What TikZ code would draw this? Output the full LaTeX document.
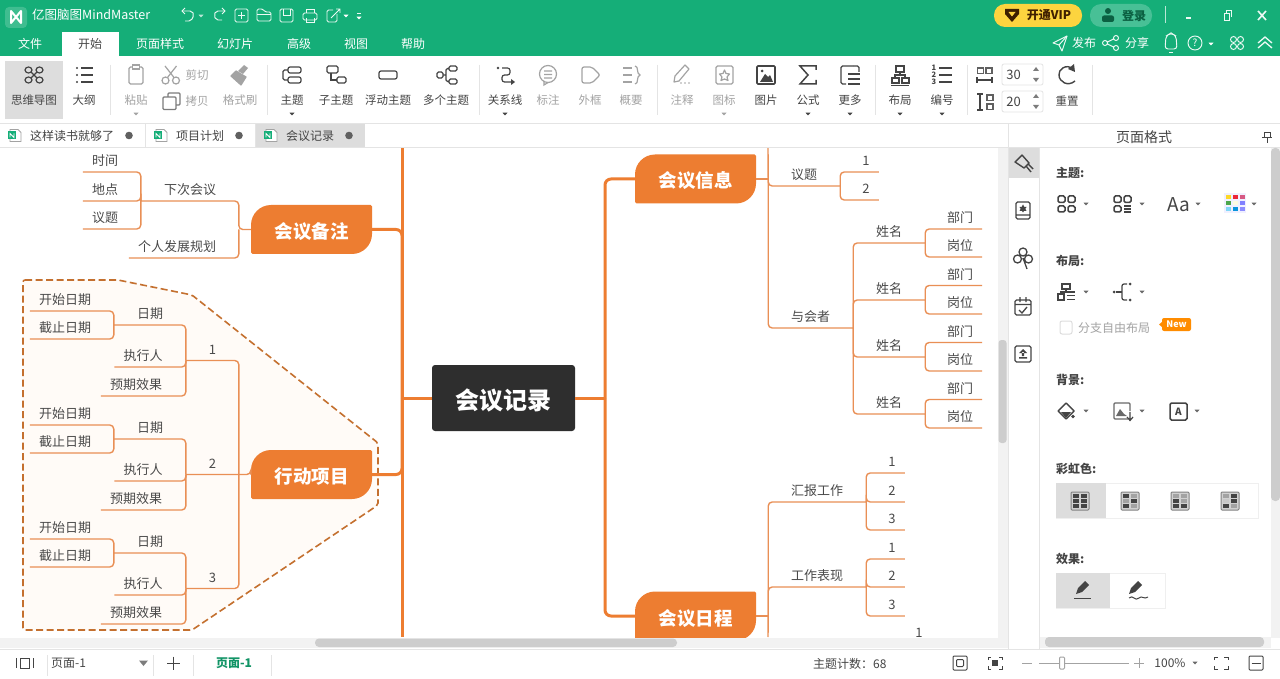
\documentclass[tikz,border=0pt]{standalone}
\usepackage{fontspec}
\setmainfont{Noto Sans CJK SC}
\usetikzlibrary{positioning}

\definecolor{barGreen}{HTML}{15AE78}
\definecolor{mapOrange}{HTML}{ED7D31}
\definecolor{thinOrange}{HTML}{E98F55}
\definecolor{dashOrange}{HTML}{C4702F}
\definecolor{areaFill}{HTML}{FFFBF7}
\definecolor{mapText}{HTML}{4A4A4A}
\definecolor{uiDark}{HTML}{444444}
\definecolor{uiGray}{HTML}{A3A3A3}
\definecolor{uiLine}{HTML}{E4E4E4}
\definecolor{uiCell}{HTML}{DDDDDD}
\definecolor{uiThumb}{HTML}{CDCDCD}
\definecolor{uiTrack}{HTML}{F2F2F2}

\newcommand{\fs}[1]{\fontsize{#1}{#1}\selectfont}
\newcommand{\dropmark}[3][uiDark]{\fill[#1] (#2,#3) ++(-2.5,-1.3) -- ++(5,0) -- ++(-2.5,2.8) -- cycle;}
\newcommand{\tabicon}[1]{%
  \draw[uiGray, line width=0.9pt, fill=white] (#1+2,129.5) -- (#1+10,129.5) -- (#1+13,132.5) -- (#1+13,141.5) -- (#1+2,141.5) -- cycle;
  \fill[barGreen] (#1,131.5) rectangle (#1+8,139.5);
  \draw[white, line width=0.8pt] (#1+2,137.5) -- (#1+2,133.5) -- (#1+6,137.5) -- (#1+6,133.5);}
\newcommand{\rainbowicon}[7]{%
  \draw[uiGray!80!black,fill=uiGray!50,line width=1,rounded corners=1] (#1-9,492) rectangle (#1+9,510);
  \fill[#2] (#1-7,494) rectangle (#1-1,498); \fill[#3] (#1+1,494) rectangle (#1+7,498);
  \fill[#4] (#1-7,499) rectangle (#1-1,503); \fill[#5] (#1+1,499) rectangle (#1+7,503);
  \fill[#6] (#1-7,504) rectangle (#1-1,508); \fill[#7] (#1+1,504) rectangle (#1+7,508);}

\begin{document}
\begin{tikzpicture}[x=1pt,y=-1pt,
    node/.style={%
      inner sep=0pt,
    },
  ]

\tikzstyle{topic} = [anchor=south, inner xsep=9pt, inner ysep=6pt, text height=10pt, text depth=0pt, text centered, text=mapText, font=\fs{13}]
\tikzstyle{mainbox} = [minimum width=121pt, minimum height=49pt, inner sep=0pt, text height=18pt, text depth=0pt, text=white, font=\fs{18.5}\bfseries, path picture={\fill[mapOrange] (path picture bounding box.west) [rounded corners=20pt] -- (path picture bounding box.north west) [rounded corners=1.5pt] -- (path picture bounding box.north east) [rounded corners=20pt] -- (path picture bounding box.south east) [rounded corners=1.5pt] -- (path picture bounding box.south west) -- cycle;}]
\tikzstyle{link} = [draw=thinOrange, line width=1.4pt, rounded corners=4pt]
\tikzstyle{trunk} = [draw=mapOrange, line width=3pt, rounded corners=6pt]
\tikzstyle{menu} = [node, text=white, font=\fs{12}]
\tikzstyle{tool} = [node, text=uiDark, font=\fs{11.5}]
\tikzstyle{toolg} = [node, text=uiGray, font=\fs{11.5}]
\tikzstyle{head} = [node, anchor=west, text=uiDark, font=\fs{12}\bfseries]
\tikzstyle{ic} = [draw=uiDark, line width=1.2pt]
\tikzstyle{icg} = [draw=uiGray, line width=1.2pt]
\tikzstyle{icw} = [draw=white!92!barGreen, line width=0.95pt]
\useasboundingbox (0,0) rectangle (1280,679);

% mind map
\fill[white] (0,0) rectangle (1280,679);
\begin{scope}
\clip (0,148) rectangle (998,637);
\filldraw[draw=dashOrange, fill=areaFill, line width=1.6pt, dash pattern=on 7pt off 3.5pt, rounded corners=2pt] (23,280) -- (118,280) -- (192,295) -- (378,443) -- (378,505) -- (192,630) -- (23,630) -- cycle;

\coordinate (leftTop) at (402,148);
\coordinate (leftHub) at (402,398);
\coordinate (leftBot) at (402,637);
\coordinate (rightJ) at (605,398);
\coordinate (xinxiTop) at (768,148);
\coordinate (richengBot) at (768,637);

\node [rounded corners=3pt, fill=black!82, text=white, minimum width=143pt, minimum height=66pt, inner sep=0pt, text height=22pt, text depth=0pt, font=\fs{24}\bfseries] (jilu) at (503.5,398) {会议记录};
\node [mainbox] (beizhu) at (311.5,229.5) {会议备注};
\node [mainbox] (xingdong) at (311.5,474.5) {行动项目};
\node [mainbox] (xinxi) at (695.5,179) {会议信息};
\node [mainbox] (richeng) at (695.5,616) {会议日程};

\draw [trunk] (leftTop) -- (leftBot);
\draw [trunk] (jilu.west) -- (leftHub);
\draw [trunk] (beizhu.east) -| (leftHub);
\draw [trunk] (xingdong.east) -| (leftHub);
\draw [trunk] (jilu.east) -- (rightJ);
\draw [trunk] (rightJ) |- (xinxi.west);
\draw [trunk] (rightJ) |- (richeng.west);

\path (beizhu.west) ++(-12,0) coordinate (beizhuJ);
\path (xingdong.west) ++(-12,0) coordinate (xingdongJ);
\path (xinxi.east) ++(12,0) coordinate (xinxiJ);
\path (richeng.east) ++(12,0) coordinate (richengJ);

% notes
\node [topic, minimum width=98pt] (xiaci) at (190,201) {下次会议};
\node [topic] (shijian) at (105,172) {时间};
\node [topic] (didian) at (105,201) {地点};
\node [topic] (yiti0) at (105,229) {议题};
\node [topic] (geren) at (177,258) {个人发展规划};
\draw [link] (beizhu.west) -- (beizhuJ) |- (xiaci.south west);
\draw [link] (beizhuJ) |- (geren.south west);
\draw [link] (xiaci.south west) |- (shijian.south west);
\draw [link] (xiaci.south west) |- (didian.south west);
\draw [link] (xiaci.south west) |- (yiti0.south west);

% actions
\node [topic, minimum width=53pt] (xu1) at (212.5,360.5) {1};
\node [topic, minimum width=72pt] (riqi1) at (150,325) {日期};
\node [topic] (kaishi1) at (65,311) {开始日期};
\node [topic] (jiezhi1) at (65,339) {截止日期};
\node [topic] (zhixing1) at (143,367) {执行人};
\node [topic] (yuqi1) at (136,396) {预期效果};
\node [topic, minimum width=53pt] (xu2) at (212.5,474.5) {2};
\node [topic, minimum width=72pt] (riqi2) at (150,439) {日期};
\node [topic] (kaishi2) at (65,425) {开始日期};
\node [topic] (jiezhi2) at (65,453) {截止日期};
\node [topic] (zhixing2) at (143,481) {执行人};
\node [topic] (yuqi2) at (136,510) {预期效果};
\node [topic, minimum width=53pt] (xu3) at (212.5,588.5) {3};
\node [topic, minimum width=72pt] (riqi3) at (150,553) {日期};
\node [topic] (kaishi3) at (65,539) {开始日期};
\node [topic] (jiezhi3) at (65,567) {截止日期};
\node [topic] (zhixing3) at (143,595) {执行人};
\node [topic] (yuqi3) at (136,624) {预期效果};
\draw [link] (xingdong.west) |- (xu2.south west);
\draw [link] (xingdongJ) |- (xu1.south west);
\draw [link] (xingdongJ) |- (xu3.south west);
\draw [link] (riqi1.south west) |- (kaishi1.south west);
\draw [link] (riqi1.south west) |- (jiezhi1.south west);
\draw [link] (xu1.south west) |- (riqi1.south west);
\draw [link] (xu1.south west) |- (zhixing1.south west);
\draw [link] (xu1.south west) |- (yuqi1.south west);
\draw [link] (riqi2.south west) |- (kaishi2.south west);
\draw [link] (riqi2.south west) |- (jiezhi2.south west);
\draw [link] (xu2.south west) |- (riqi2.south west);
\draw [link] (xu2.south west) |- (zhixing2.south west);
\draw [link] (xu2.south west) |- (yuqi2.south west);
\draw [link] (riqi3.south west) |- (kaishi3.south west);
\draw [link] (riqi3.south west) |- (jiezhi3.south west);
\draw [link] (xu3.south west) |- (riqi3.south west);
\draw [link] (xu3.south west) |- (zhixing3.south west);
\draw [link] (xu3.south west) |- (yuqi3.south west);

% info
\node [topic, minimum width=72pt] (yiti) at (804,186) {议题};
\node [topic] (yt1) at (866,172) {1};
\node [topic] (yt2) at (866,200) {2};
\node [topic, minimum width=85pt] (yuhui) at (810.5,328) {与会者};
\node [topic, minimum width=72pt] (xm1) at (889,243) {姓名};
\node [topic] (bm1) at (960,229) {部门};
\node [topic] (gw1) at (960,257) {岗位};
\node [topic, minimum width=72pt] (xm2) at (889,300) {姓名};
\node [topic] (bm2) at (960,285.5) {部门};
\node [topic] (gw2) at (960,314) {岗位};
\node [topic, minimum width=72pt] (xm3) at (889,357) {姓名};
\node [topic] (bm3) at (960,342.5) {部门};
\node [topic] (gw3) at (960,371) {岗位};
\node [topic, minimum width=72pt] (xm4) at (889,414) {姓名};
\node [topic] (bm4) at (960,399.5) {部门};
\node [topic] (gw4) at (960,428) {岗位};
\draw [link] (xinxi.east) -- (xinxiJ);
\draw [link] (xinxiJ) -- (xinxiTop);
\draw [link] (xinxiJ) |- (yiti.south east);
\draw [link] (xinxiJ) |- (yuhui.south east);
\draw [link] (yiti.south east) |- (yt1.south east);
\draw [link] (yiti.south east) |- (yt2.south east);
\draw [link] (yuhui.south east) |- (xm1.south east);
\draw [link] (yuhui.south east) |- (xm2.south east);
\draw [link] (yuhui.south east) |- (xm3.south east);
\draw [link] (yuhui.south east) |- (xm4.south east);
\draw [link] (xm1.south east) |- (bm1.south east);
\draw [link] (xm1.south east) |- (gw1.south east);
\draw [link] (xm2.south east) |- (bm2.south east);
\draw [link] (xm2.south east) |- (gw2.south east);
\draw [link] (xm3.south east) |- (bm3.south east);
\draw [link] (xm3.south east) |- (gw3.south east);
\draw [link] (xm4.south east) |- (bm4.south east);
\draw [link] (xm4.south east) |- (gw4.south east);

% agenda
\node [topic, minimum width=98pt] (huibao) at (817,502) {汇报工作};
\node [topic] (hb1) at (892,473) {1};
\node [topic] (hb2) at (892,502) {2};
\node [topic] (hb3) at (892,530) {3};
\node [topic, minimum width=98pt] (biaoxian) at (817,587) {工作表现};
\node [topic] (bx1) at (892,559) {1};
\node [topic] (bx2) at (892,587) {2};
\node [topic] (bx3) at (892,616) {3};
\node [topic] (next1) at (919,644) {1};
\draw [link] (richeng.east) -- (richengJ);
\draw [link] (richengJ) -- (richengBot);
\draw [link] (richengJ) |- (huibao.south east);
\draw [link] (richengJ) |- (biaoxian.south east);
\draw [link] (huibao.south east) |- (hb1.south east);
\draw [link] (huibao.south east) |- (hb2.south east);
\draw [link] (huibao.south east) |- (hb3.south east);
\draw [link] (biaoxian.south east) |- (bx1.south east);
\draw [link] (biaoxian.south east) |- (bx2.south east);
\draw [link] (biaoxian.south east) |- (bx3.south east);
\end{scope}

% title bar
\fill[barGreen] (0,0) rectangle (1280,56);
\fill[white!18!barGreen, rounded corners=4pt] (5,7) rectangle (27,28);
\draw[white, line width=2pt, line join=round] (11,11) -- (11,23) -- (21,11) -- (21,23) -- (11,11) -- cycle;
\node [menu, anchor=west, font=\fs{12.5}] (appName) at (32,15) {亿图脑图MindMaster};
\draw[icw, rounded corners=2pt] (183,11) -- (192,11) -- (194,15) -- (191,21) -- (185,21);
\draw[icw] (185,8) -- (182,11) -- (185,14);
\draw[icw, rounded corners=2pt] (224,11) -- (216,11) -- (214,15) -- (216,20) -- (222,20);
\draw[icw] (222,8) -- (225,11) -- (222,14);
\draw[icw, rounded corners=1.5pt] (235,9) rectangle (248,22);
\draw[icw] (241.5,12) -- (241.5,19) (238,15.5) -- (245,15.5);
\draw[icw, rounded corners=1.5pt] (257,21) -- (257,9) -- (263,9) -- (265,12) -- (271,12) -- (271,21) -- cycle;
\draw[icw] (257,14) -- (271,14);
\draw[icw, rounded corners=1.5pt] (280,9) rectangle (293,22);
\draw[icw] (283,9) -- (283,15) -- (290,15) -- (290,9);
\draw[icw, rounded corners=1.5pt] (303,13) rectangle (317,20);
\draw[icw] (306,13) -- (306,9) -- (314,9) -- (314,13) (306,18) -- (306,22) -- (314,22) -- (314,18);
\draw[icw, rounded corners=1.5pt] (337,14) -- (337,22) -- (327,22) -- (327,10) -- (333,10);
\draw[icw] (331,18) -- (340,9) (336,9) -- (340,9) -- (340,13);
\dropmark[white!70!barGreen]{201}{16}
\dropmark[white]{346}{16}
\dropmark[white]{359}{18}
\draw[icw, line width=0.9pt] (357,13) -- (361,13);

% menu row
\fill[white] (62,32) rectangle (119,56);
\node [menu] (mWenjian) at (30,44) {文件};
\node [menu, text=uiDark] (mKaishi) at (90,44) {开始};
\node [menu] (mYemian) at (160,44) {页面样式};
\node [menu] (mHuandeng) at (235,44) {幻灯片};
\node [menu] (mGaoji) at (299,44) {高级};
\node [menu] (mShitu) at (356,44) {视图};
\node [menu] (mBangzhu) at (413,44) {帮助};

% top right
\fill[yellow!60!orange!75!white, rounded corners=11pt] (994,4) rectangle (1082,27);
\fill[black!60!orange!60!black] (1005,9) -- (1019,9) -- (1019,14) -- (1012,22) -- (1005,14) -- cycle;
\fill[yellow!60!orange!75!white] (1008.5,12) -- (1015.5,12) -- (1012,16.5) -- cycle;
\node [node, text=black!75!orange, font=\fs{12}\bfseries] (vip) at (1049,15.5) {开通VIP};
\fill[white!22!barGreen, rounded corners=11pt] (1090,4) rectangle (1152,27);
\fill[black!45!barGreen] (1108,11) circle (3);
\fill[black!45!barGreen, rounded corners=2pt] (1102,22) rectangle (1114,15.5);
\node [node, text=black!45!barGreen, font=\fs{12}\bfseries] (login) at (1134,16) {登录};
\draw[white!70!barGreen, line width=0.9pt] (1165,6) -- (1165,23);
\draw[icw, line width=1.6pt] (1186,18) -- (1191,18);
\draw[icw] (1224,13) rectangle (1229,20) (1226,13) -- (1226,10) -- (1231,10) -- (1231,17);
\draw[icw, line width=1.6pt] (1258,11) -- (1266,20) (1266,11) -- (1258,20);
\draw[icw, line join=round] (1067,36) -- (1053,43) -- (1059,45) -- (1062,51) -- cycle;
\draw[icw] (1059,45) -- (1067,36);
\node [menu] (mFabu) at (1084,43) {发布};
\draw[icw] (1116,38) circle (2.5) (1116,48) circle (2.5) (1105,43) circle (2.5) (1107.5,42) -- (1113.5,39) (1107.5,44) -- (1113.5,47);
\node [menu] (mFenxiang) at (1137,43) {分享};
\draw[icw, rounded corners=3pt] (1165,49) -- (1166,36) -- (1171,33) -- (1176,36) -- (1177,49) -- cycle;
\draw[icw] (1169,52) -- (1173,52);
\draw[icw] (1195,43) circle (7);
\node [node, text=white, font=\fs{10}] (mHelp) at (1195,43) {?};
\dropmark[white]{1211}{44}
\draw[icw] (1233.5,39.5) circle (3) (1240.5,39.5) circle (3) (1233.5,46.5) circle (3) (1240.5,46.5) circle (3);
\draw[icw, line width=1.3pt] (1258,43) -- (1265,37) -- (1272,43) (1258,48) -- (1265,42) -- (1272,48);

% ribbon
\fill[uiCell] (5,61) rectangle (63,119);
\draw[ic] (28.5,70) ellipse (3.5 and 3) (39.5,70) ellipse (3.5 and 3) (28.5,80) ellipse (3.5 and 3) (39.5,80) ellipse (3.5 and 3) (31,72) -- (37,78) (37,72) -- (31,78);
\fill[uiDark] (77,68) circle (1.2) (77,75) circle (1.2) (77,82) circle (1.2);
\draw[ic] (81,68) -- (93,68) (81,75) -- (93,75) (81,82) -- (93,82);
\draw[icg, rounded corners=1.5pt] (129,67) rectangle (143,84);
\draw[icg, fill=white] (132.5,65) rectangle (139.5,69);
\draw[icg] (165.5,80.5) circle (3.5) (176,80.5) circle (3.5) (167.5,77.5) -- (176.5,66) (174,77.5) -- (165,66);
\draw[uiDark!70, line width=1.2pt, rounded corners=1pt] (168,97) -- (168,93) -- (180,93) -- (180,105) -- (176,105);
\draw[uiDark!70, line width=1.2pt, rounded corners=1pt] (163,97) rectangle (176,109.5);
\draw[icg, fill=uiGray, line join=round] (236,71) -- (246,77) -- (241,85) -- (231,76) -- cycle;
\fill[uiGray] (238,71) -- (244,65) -- (248,68) -- (243,74) -- cycle;
\draw[ic, rounded corners=2pt] (288,67) rectangle (301,73) (288,77) rectangle (301,83);
\draw[ic, rounded corners=1.5pt] (288,70) -- (283,70) -- (283,80) -- (288,80);
\draw[ic, rounded corners=1.5pt] (327,66) rectangle (338,73) (337,77) rectangle (346,83);
\draw[ic] (331,73) |- (337,80);
\draw[ic, rounded corners=2pt] (379,71) rectangle (397,79);
\draw[ic, rounded corners=1.5pt] (437,72) rectangle (443,78) (449,66) rectangle (457,71) (449,79) rectangle (457,84);
\draw[ic, rounded corners=1.5pt] (449,68.5) -- (446,68.5) -- (446,81.5) -- (449,81.5) (443,75) -- (446,75);
\fill[uiDark] (498,68) circle (1.4);
\draw[ic, rounded corners=2.5pt] (502,68) -- (510,68) -- (510,75) -- (502,75) -- (502,82) -- (511,82);
\fill[uiDark] (511,79) -- (515,82) -- (511,85) -- cycle;
\draw[icg] (548,74) circle (8.5);
\draw[icg] (544,71) -- (552,71) (544,74.5) -- (552,74.5) (544,78) -- (552,78) (544,81) -- (544,85) -- (548,82.5);
\draw[icg, rounded corners=2pt] (582,67) -- (592,67) -- (600,75) -- (592,83) -- (582,83) -- cycle;
\draw[icg] (623,68) -- (632,68) (623,75) -- (632,75) (623,82) -- (632,82);
\draw[icg] (635,66) .. controls (639,66) and (636,74) .. (640,75) .. controls (636,76) and (639,84) .. (635,84);
\draw[icg, line join=round] (674,82) -- (675,76) -- (685,65) -- (689,69) -- (679,81) -- cycle;
\fill[uiGray] (681,83) circle (0.9) (685,83) circle (0.9) (689,83) circle (0.9);
\draw[icg, rounded corners=1.5pt] (716,66) rectangle (733,84);
\draw[icg, line join=round] (724.5,70) -- (726,73.5) -- (729.5,74) -- (727,77) -- (728,80.5) -- (724.5,79) -- (721,80.5) -- (722,77) -- (719.5,74) -- (723,73.5) -- cycle;
\draw[ic, line width=1.6pt, rounded corners=1pt] (757,66) rectangle (775,84);
\fill[uiDark] (760,82) -- (765,74) -- (768,77) -- (770,75) -- (773,82) -- cycle;
\fill[uiDark] (762,71) circle (1.5);
\draw[ic, line width=1.5pt, line join=miter] (816,70) -- (816,66) -- (800,66) -- (808,75) -- (800,84) -- (816,84) -- (816,80);
\draw[ic, rounded corners=1.5pt] (853,66) -- (841,66) -- (841,84) -- (846,84);
\draw[ic, rounded corners=1.5pt] (853,66) -- (859,66) -- (859,72);
\draw[ic] (848,74) -- (860,74) (848,79) -- (860,79) (848,84) -- (860,84);
\draw[ic] (896,66) rectangle (904,72);
\draw[ic] (892,78) rectangle (899,83) (902,78) rectangle (909,83) (900,72) -- (900,75) (895,78) -- (895,75) -- (905,75) -- (905,78);
\draw[ic] (891,85.5) -- (900,85.5) -- (909,85.5);
\node [node, text=uiDark, font=\fs{7.5}\bfseries] (bh1) at (934,68) {1};
\node [node, text=uiDark, font=\fs{7.5}\bfseries] (bh2) at (934,75) {2};
\node [node, text=uiDark, font=\fs{7.5}\bfseries] (bh3) at (934,82) {3};
\draw[uiDark, line width=2.2pt] (939,68) -- (952,68) (939,75) -- (952,75) (939,82) -- (952,82);
\draw[ic, draw=uiDark!85] (977.5,68) rectangle (983.5,73.5) (986,68) rectangle (992,73.5);
\draw[ic] (977,77) -- (977,83) (992,77) -- (992,83) (977,80) -- (992,80);
\draw[ic, draw=uiDark!85] (987,95) rectangle (993,100.5) (987,104) rectangle (993,109.5);
\draw[ic] (980,94) -- (980,110) (977,94) -- (983,94) (977,110) -- (983,110);
\draw[uiLine, line width=0.8pt, rounded corners=2pt] (1002,64) rectangle (1043,85) (1002,91) rectangle (1043,112);
\node [node, text=uiDark, font=\fs{13}] (gapA) at (1013.5,75) {30};
\node [node, text=uiDark, font=\fs{13}] (gapB) at (1013.5,102) {20};
\fill[uiDark!70] (1036,67) -- (1039,71) -- (1033,71) -- cycle (1036,82) -- (1039,78) -- (1033,78) -- cycle (1036,94) -- (1039,98) -- (1033,98) -- cycle (1036,109) -- (1039,105) -- (1033,105) -- cycle;
\draw[ic, line width=1.4pt] (1073,69) .. controls (1066,63) and (1058,70) .. (1059,75) .. controls (1059,82) and (1068,87) .. (1075,81);
\fill[uiDark] (1074,64) -- (1075,72) -- (1068,69) -- cycle;

\node [tool] (tSiwei) at (34,100.5) {思维导图};
\node [tool] (tDagang) at (84,100.5) {大纲};
\node [toolg] (tNiantie) at (136,100.5) {粘贴};
\node [toolg] (tJianqie) at (197,75) {剪切};
\node [toolg] (tKaobei) at (197,101.5) {拷贝};
\node [toolg] (tGeshi) at (240,100.5) {格式刷};
\node [tool] (tZhuti) at (292,100.5) {主题};
\node [tool] (tZizhuti) at (336,100.5) {子主题};
\node [tool] (tFudong) at (388,100.5) {浮动主题};
\node [tool] (tDuoge) at (446,100.5) {多个主题};
\node [tool] (tGuanxi) at (505,100.5) {关系线};
\node [toolg] (tBiaozhu) at (548,100.5) {标注};
\node [toolg] (tWaikuang) at (590,100.5) {外框};
\node [toolg] (tGaiyao) at (631,100.5) {概要};
\node [toolg] (tZhushi) at (682,100.5) {注释};
\node [toolg] (tTubiao) at (724,100.5) {图标};
\node [tool] (tTupian) at (766,100.5) {图片};
\node [tool] (tGongshi) at (808,100.5) {公式};
\node [tool] (tGengduo) at (850,100.5) {更多};
\node [tool] (tBuju) at (900,100.5) {布局};
\node [tool] (tBianhao) at (942,100.5) {编号};
\node [tool] (tChongzhi) at (1067,100.5) {重置};
\dropmark[uiGray]{136}{114}
\dropmark{292}{114}
\dropmark{505}{114}
\dropmark[uiGray]{724}{114}
\dropmark{808}{114}
\dropmark{850}{114}
\dropmark{900}{114}
\dropmark{942}{114}
\draw[uiLine, line width=1pt] (110,65) -- (110,115) (267,65) -- (267,115) (479,65) -- (479,115) (657,65) -- (657,115) (875,65) -- (875,115) (967,65) -- (967,115) (1092,65) -- (1092,115);

% tabs
\draw[uiLine, line width=1.4pt] (0,123.5) -- (1280,123.5);
\fill[uiCell] (256,124) rectangle (365,147);
\draw[uiLine, line width=1pt] (0,147.5) -- (1280,147.5);
\draw[uiLine, line width=1pt] (145.5,124) -- (145.5,147) (255.5,124) -- (255.5,147);
\tabicon{8}
\tabicon{154}
\tabicon{264}
\node [tool, font=\fs{12}] (tabA) at (72,135.5) {这样读书就够了};
\node [tool, font=\fs{12}] (tabB) at (200,135.5) {项目计划};
\node [tool, font=\fs{12}] (tabC) at (310,135.5) {会议记录};
\fill[uiDark!85] (129,135.5) circle (3.8) (239,135.5) circle (3.8) (349,135.5) circle (3.8);

% scrollbars
\fill[uiTrack] (998,148) rectangle (1008,638);
\fill[uiThumb, rounded corners=3pt] (998.5,340) rectangle (1006.5,443);
\fill[uiTrack] (0,638) rectangle (1008,648);
\fill[uiThumb, rounded corners=4pt] (315,638.5) rectangle (677,647);

% right panel
\fill[white] (1008,124) rectangle (1280,650);
\draw[uiLine, line width=1pt] (1008.5,124) -- (1008.5,650) (1039.5,148) -- (1039.5,650) (1008,147.5) -- (1280,147.5);
\node [node, text=uiDark, font=\fs{14}] (panelTitle) at (1144,137) {页面格式};
\draw[ic, line width=1pt] (1264,133) rectangle (1270,138) (1262,138) -- (1272,138) (1267,138) -- (1267,143);
\fill[uiTrack] (1271,148) rectangle (1280,638);
\fill[uiThumb, rounded corners=4pt] (1271,148) rectangle (1280,501);
\fill[uiTrack] (1040,637) rectangle (1271,648);
\fill[uiThumb, rounded corners=4pt] (1045,637) rectangle (1264,647);

\fill[uiCell] (1009,148) rectangle (1039,178);
\draw[ic, line join=round, line width=1.4pt] (1015,162) -- (1022,155) -- (1029,163) -- (1024,168) -- cycle (1026,166) -- (1031,172) (1028,164) -- (1033,169);
\draw[ic, rounded corners=1.5pt] (1016,202) rectangle (1030,219) (1016,215) -- (1030,215);
\fill[uiDark] (1023,204.5) -- (1026.5,211) -- (1019.5,211) -- cycle (1023,212.5) -- (1019.5,207) -- (1026.5,207) -- cycle;
\draw[ic, line width=1.3pt] (1023,252) circle (4) (1017.5,259) circle (4) (1028.5,259) circle (4) (1023,258) -- (1027,269);
\draw[ic, rounded corners=1.5pt, line width=1.3pt] (1015,300) rectangle (1031,315) (1015,304.5) -- (1031,304.5) (1020,297) -- (1020,302) (1026,297) -- (1026,302);
\draw[ic, line width=1.3pt] (1019,310) -- (1022,313) -- (1027,307);
\draw[ic, rounded corners=1.5pt, line width=1.3pt] (1015,346) rectangle (1031,362);
\fill[uiDark] (1023,349) -- (1027,353) -- (1019,353) -- cycle (1021.8,352) rectangle (1024.2,356) (1019,357) rectangle (1027,358.5);

\node [head] (hZhuti) at (1056,172.5) {主题:};
\node [head] (hBuju) at (1056,260.5) {布局:};
\node [head] (hBeijing) at (1056,379.5) {背景:};
\node [head] (hCaihong) at (1056,468.5) {彩虹色:};
\node [head] (hXiaoguo) at (1056,558.5) {效果:};

\draw[ic, rounded corners=1.5pt, line width=1.5pt] (1058,196) rectangle (1065,202.5) (1068,196) rectangle (1075,202.5) (1058,206) rectangle (1065,212) (1068,206) rectangle (1075,212);
\draw[ic, rounded corners=1.5pt, line width=1.5pt] (1114,196) rectangle (1121,202.5) (1124,196) rectangle (1131,202.5) (1114,206) rectangle (1121,212);
\draw[ic, line width=1.3pt] (1124,206) -- (1131,206) (1124,209) -- (1131,209) (1124,212) -- (1131,212);
\node [node, text=uiDark, font=\fs{19}] (fontAa) at (1179,205) {Aa};
\fill[blue!6] (1224,193) rectangle (1246,213);
\fill[yellow!70!orange!85] (1225.5,195) rectangle (1231,199.5);
\fill[red!65!purple!85] (1232.5,195) rectangle (1238,199.5);
\fill[purple!65!white] (1239.5,195) rectangle (1245,199.5);
\fill[green!50!black!70] (1225.5,201) rectangle (1231,205.5);
\fill[black!10!yellow!12] (1232.5,201) rectangle (1238,205.5);
\fill[blue!50!white] (1239.5,201) rectangle (1245,205.5);
\fill[cyan!50!white] (1225.5,207) rectangle (1231,211.5);
\fill[cyan!80!blue] (1232.5,207) rectangle (1238,211.5);
\fill[blue!45!white] (1239.5,207) rectangle (1245,211.5);
\dropmark[uiDark!80]{1086}{204}
\dropmark[uiDark!80]{1142}{204}
\dropmark[uiDark!80]{1198}{204}
\dropmark[uiDark!80]{1254}{204}

\draw[ic] (1062,284) rectangle (1070,289) (1058,294) rectangle (1064,300);
\draw[ic] (1066,289) -- (1066,292) (1061,294) -- (1061,292) -- (1075,292);
\draw[ic, line width=1pt] (1067,295) -- (1075,295) (1067,299) -- (1075,299);
\fill[uiDark] (1114,292) circle (1.5) (1130,284) circle (1.5) (1130,300) circle (1.5);
\draw[ic, rounded corners=2pt] (1127,284) -- (1122,284) -- (1122,300) -- (1127,300);
\draw[ic] (1116,292) -- (1122,292);
\dropmark[uiDark!80]{1086}{292}
\dropmark[uiDark!80]{1142}{292}
\draw[uiCell, line width=1pt, rounded corners=2pt] (1060,321) rectangle (1072,334);
\node [node, text=uiGray, font=\fs{12}] (ziyou) at (1114,327.5) {分支自由布局};
\fill[orange!90!yellow, rounded corners=2pt] (1162,318) rectangle (1191,331);
\fill[orange!90!yellow] (1162,322) -- (1159,324.5) -- (1162,327) -- cycle;
\node [node, text=white, font=\fs{9}\bfseries] (newTag) at (1176.5,324.5) {New};

\draw[ic, line join=round, line width=1.4pt] (1058,411) -- (1066,403) -- (1074,411) -- (1066,419) -- cycle;
\fill[uiDark] (1061,412) -- (1071,412) -- (1066,418) -- cycle (1073,416.5) circle (1.8);
\draw[ic, draw=uiDark!80, rounded corners=1pt] (1128,419) -- (1114,419) -- (1114,403) -- (1130,403) -- (1130,411);
\fill[uiDark!80] (1116,416) -- (1120,409) -- (1124,414) -- (1127,416) -- cycle;
\draw[ic] (1130,412) -- (1130,420) (1127,417) -- (1130,420.5) -- (1133,417);
\draw[ic, rounded corners=1.5pt, line width=1.5pt] (1170,403) rectangle (1187,420);
\node [node, text=uiDark, font=\fs{10}\bfseries] (boxA) at (1178.5,411.5) {A};
\dropmark[uiDark!80]{1086}{411}
\dropmark[uiDark!80]{1142}{411}
\dropmark[uiDark!80]{1197}{411}

\draw[uiLine!60, line width=0.6pt] (1056,483) rectangle (1258,518);
\fill[uiCell] (1056,483) rectangle (1106,518);
\rainbowicon{1080}{uiDark}{uiDark}{uiDark}{uiDark}{uiDark}{uiDark}
\rainbowicon{1130}{uiDark}{uiGray}{uiGray}{uiDark}{uiDark}{uiGray}
\rainbowicon{1180}{uiGray}{uiGray}{uiDark}{uiGray}{uiDark}{uiDark}
\rainbowicon{1230}{uiGray}{uiDark}{uiGray!60}{uiDark}{uiDark}{uiGray}

\draw[uiLine!60, line width=0.6pt] (1056,573) rectangle (1165,608);
\fill[uiCell] (1056,573) rectangle (1110,608);
\fill[uiDark, line join=round] (1076,594) -- (1078,588) -- (1085,581) -- (1089,585) -- (1082,592) -- cycle;
\draw[uiDark, line width=1.2pt] (1074,598.5) -- (1091,598.5);
\fill[uiDark, line join=round] (1129,594) -- (1131,588) -- (1138,581) -- (1142,585) -- (1135,592) -- cycle;
\draw[uiDark, line width=1pt] (1129,598) .. controls (1133,594) and (1135,602) .. (1139,598) .. controls (1142,595) and (1144,600) .. (1148,597);

% status bar
\fill[white] (0,649) rectangle (1280,679);
\draw[uiLine, line width=1pt] (0,649.5) -- (1280,649.5);
\draw[uiDark, line width=1pt] (16,658) -- (16,668) (33,658) -- (33,668) (20,658) rectangle (29,668);
\draw[uiLine, line width=1pt] (47,655) -- (47,676) (153,655) -- (153,676) (193,655) -- (193,676) (271,655) -- (271,676);
\node [node, anchor=west, text=uiDark, font=\fs{12}] (pageBox) at (51,663.5) {页面-1};
\fill[uiDark!70] (139,660.5) -- (148,660.5) -- (143.5,666) -- cycle;
\draw[uiDark, line width=1pt] (167,663) -- (180,663) (173.5,656.5) -- (173.5,669.5);
\node [node, text=barGreen!85!black, font=\fs{12}\bfseries] (pageTab) at (234,663) {页面-1};
\node [node, anchor=west, text=uiDark, font=\fs{12}] (count) at (813,663.5) {主题计数：68};
\draw[ic, line width=1pt, rounded corners=1pt] (953,656) rectangle (967,670) (956.5,659.5) rectangle (963.5,666.5);
\draw[ic, line width=1pt] (988,660) -- (988,657) -- (991,657) (999,657) -- (1002,657) -- (1002,660) (1002,666) -- (1002,669) -- (999,669) (991,669) -- (988,669) -- (988,666);
\fill[uiDark] (992,660) rectangle (998,666);
\draw[uiGray, line width=1pt] (1022,663) -- (1032,663) (1039,663) -- (1129,663) (1134,663) -- (1144,663) (1139,658) -- (1139,668);
\draw[uiGray, fill=white, line width=1pt, rounded corners=1pt] (1059.5,657) rectangle (1064.5,669);
\node [node, text=uiDark, font=\fs{12}] (zoomVal) at (1170,663.5) {100\%};
\dropmark[uiDark!80]{1195}{663}
\draw[uiDark, line width=1pt] (1214,660) -- (1214,657) -- (1218,657) (1224,657) -- (1228,657) -- (1228,660) (1228,666) -- (1228,669) -- (1224,669) (1218,669) -- (1214,669) -- (1214,666);
\draw[uiDark, line width=1pt, rounded corners=1pt] (1249,656) rectangle (1263,670);
\draw[uiDark, line width=1pt] (1251.5,663) -- (1260.5,663);
\end{tikzpicture}
\end{document}
